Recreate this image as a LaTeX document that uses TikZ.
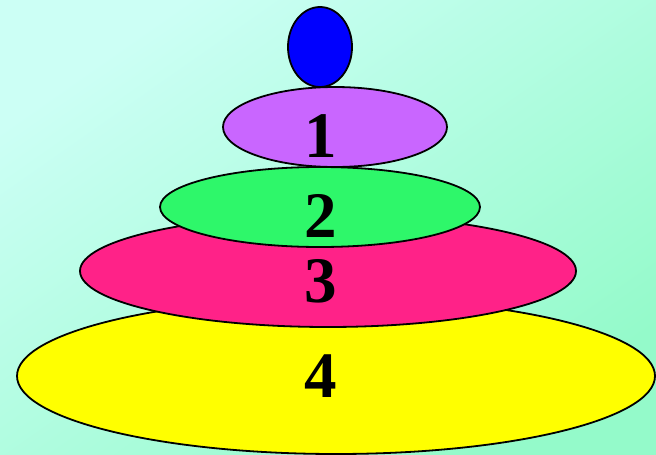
\documentclass[tikz,border=0pt]{standalone}
\usepackage{fontspec}
\setmainfont{Liberation Serif}
\usetikzlibrary{shapes.geometric}
\definecolor{bgA}{RGB}{204,255,245}
\definecolor{bgB}{RGB}{148,250,202}
\definecolor{cBlue}{RGB}{0,0,255}
\definecolor{cPurple}{RGB}{201,102,255}
\definecolor{cGreen}{RGB}{46,247,106}
\definecolor{cPink}{RGB}{255,34,136}
\definecolor{cYellow}{RGB}{255,255,0}
\tikzset{
  disc/.style={ellipse, draw=black, line width=1.8pt, inner sep=0pt, outer sep=0pt},
  num/.style={anchor=base, inner sep=0pt, font=\bfseries\fontsize{65}{65}\selectfont}
}
\begin{document}
\begin{tikzpicture}[x=1pt,y=-1pt]
\shade[left color=bgA, right color=bgB, shading angle=35] (0,0) rectangle (656,455);
\useasboundingbox (0,0) rectangle (656,455);
\node[disc, fill=cYellow, minimum width=638pt, minimum height=156pt] (d4) at (336,376) {};
\node[disc, fill=cPink, minimum width=496pt, minimum height=112pt] (d3) at (328,271) {};
\node[disc, fill=cGreen, minimum width=320pt, minimum height=80pt] (d2) at (320,207) {};
\node[disc, fill=cPurple, minimum width=224pt, minimum height=80pt] (d1) at (335,127) {};
\node[disc, fill=cBlue, minimum width=64pt, minimum height=80pt] (top) at (320,47) {};
\node[num] (n1) at (321,157) {1};
\node[num] (n2) at (321,237) {2};
\node[num] (n3) at (321,302) {3};
\node[num] (n4) at (321,397) {4};
\end{tikzpicture}
\end{document}
